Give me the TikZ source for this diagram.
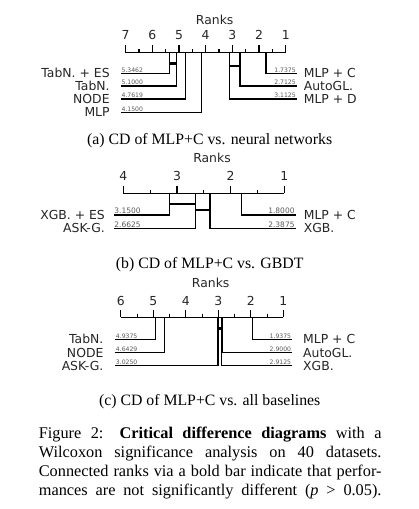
\documentclass[tikz,border=0pt]{standalone}
\usepackage{fontspec}
\setmainfont{Liberation Serif}
\newfontfamily\cdsans{DejaVu Sans}
\usetikzlibrary{positioning}

\tikzset{
  lbl/.style={font=\cdsans\fontsize{12.4}{14}\selectfont, text=black!85},
  val/.style={font=\cdsans\fontsize{6.1}{7}\selectfont, text=black!65, inner sep=0.4pt},
  valb/.style={val, font=\cdsans\fontsize{7.5}{8}\selectfont},
  sub/.style={font=\fontsize{15.8}{19}\selectfont},
  cdbar/.style={line width=2.8pt},
}

\begin{document}
\begin{tikzpicture}[line cap=butt,line join=miter,x=1pt,y=-1pt,line width=1.1pt]
\useasboundingbox (0,0) rectangle (419,509);
\draw (214.7,20) node[lbl] (ranksa) {Ranks};
\draw (125.7,52.7)-- (285.7,52.7);
\foreach \r in {1,...,7} {
  \draw ({285.7-26.67*(\r-1)},45)-- ({285.7-26.67*(\r-1)},52.7);
  \draw ({285.7-26.67*(\r-1)},35.3) node[lbl] (tka\r) {\r};
}
\foreach \r in {1.5,2.5,...,6.5}
  \draw ({285.7-26.67*(\r-1)},49)-- ({285.7-26.67*(\r-1)},52.7);
\draw (169.8,52.7)-- (169.8,73.3)-- (120.7,73.3);
\draw (176.4,52.7)-- (176.4,86)-- (120.7,86);
\draw (185.4,52.7)-- (185.4,99)-- (120.7,99);
\draw (201.7,52.7)-- (201.7,112.3)-- (120.7,112.3);
\draw (266,52.7)-- (266,73.3)-- (296.7,73.3);
\draw (240,52.7)-- (240,86)-- (296.7,86);
\draw (229.4,52.7)-- (229.4,99)-- (296.7,99);
\draw [cdbar] (169.8,63.3)-- (176.4,63.3);
\draw [cdbar] (229.4,66)-- (240,66);
\draw (120.7,73.3) node[val,anchor=south west] (va1) {5.3462};
\draw (120.7,86) node[val,anchor=south west] (va2) {5.1000};
\draw (120.7,99) node[val,anchor=south west] (va3) {4.7619};
\draw (120.7,112.3) node[val,anchor=south west] (va4) {4.1500};
\draw (296.7,73.3) node[val,anchor=south east] (va5) {1.7375};
\draw (296.7,86) node[val,anchor=south east] (va6) {2.7125};
\draw (296.7,99) node[val,anchor=south east] (va7) {3.1125};
\draw (113.5,77.7) node[lbl,anchor=base east] (tabnesa) {TabN. + ES};
\draw (113.5,90.4) node[lbl,anchor=base east] (tabna) {TabN.};
\draw (113.5,103.4) node[lbl,anchor=base east] (nodea) {NODE};
\draw (113.5,116.7) node[lbl,anchor=base east] (mlpa) {MLP};
\draw (300,77.7) node[lbl,anchor=base west] (mlpca) {MLP + C};
\draw (300,90.4) node[lbl,anchor=base west] (autogla) {AutoGL.};
\draw (300,103.4) node[lbl,anchor=base west] (mlpda) {MLP + D};
\draw (209.7,140.7) node[sub] (capa) {(a) CD of MLP+C vs. neural networks};
\draw (212,158.3) node[lbl] (ranksb) {Ranks};
\draw (123.3,193.3)-- (284.3,193.3);
\foreach \r in {1,...,4} {
  \draw ({284.3-53.67*(\r-1)},186.2)-- ({284.3-53.67*(\r-1)},193.3);
  \draw ({284.3-53.67*(\r-1)},176.3) node[lbl] (tkb\r) {\r};
}
\foreach \r in {1.5,2.5,3.5}
  \draw ({284.3-53.67*(\r-1)},189.8)-- ({284.3-53.67*(\r-1)},193.3);
\draw (169.3,193.3)-- (169.3,215)-- (113.5,215);
\draw (195.4,193.3)-- (195.4,228.3)-- (113.5,228.3);
\draw (241.8,193.3)-- (241.8,215)-- (295.5,215);
\draw (210,193.3)-- (210,228.3)-- (295.5,228.3);
\draw [cdbar] (169.3,204)-- (195.4,204);
\draw [cdbar] (195.4,210)-- (210,210);
\draw (113.5,215) node[valb,anchor=south west] (vb1) {3.1500};
\draw (113.5,228.3) node[valb,anchor=south west] (vb2) {2.6625};
\draw (295.5,215) node[valb,anchor=south east] (vb3) {1.8000};
\draw (295.5,228.3) node[valb,anchor=south east] (vb4) {2.3875};
\draw (108.7,219.4) node[lbl,anchor=base east] (xgbesb) {XGB. + ES};
\draw (108.7,232.7) node[lbl,anchor=base east] (askgb) {ASK-G.};
\draw (300,219.4) node[lbl,anchor=base west] (mlpcb) {MLP + C};
\draw (300,232.7) node[lbl,anchor=base west] (xgbb) {XGB.};
\draw (209.7,265) node[sub] (capb) {(b) CD of MLP+C vs. GBDT};
\draw (210.7,283.3) node[lbl] (ranksc) {Ranks};
\draw (120.7,317.3)-- (283.3,317.3);
\foreach \r in {1,...,6} {
  \draw ({283.3-32.5*(\r-1)},310)-- ({283.3-32.5*(\r-1)},317.3);
  \draw ({283.3-32.5*(\r-1)},300.7) node[lbl] (tkc\r) {\r};
}
\foreach \r in {1.5,2.5,...,5.5}
  \draw ({283.3-32.5*(\r-1)},313.7)-- ({283.3-32.5*(\r-1)},317.3);
\draw (155.3,317.3)-- (155.3,339.3)-- (115,339.3);
\draw (164.9,317.3)-- (164.9,352.7)-- (115,352.7);
\draw (218,317.3)-- (218,365.7)-- (115,365.7);
\draw (252.8,317.3)-- (252.8,339.3)-- (292,339.3);
\draw (222,317.3)-- (222,352.7)-- (292,352.7);
\draw (221.2,317.3)-- (221.2,365.7)-- (292,365.7);
\draw [cdbar] (218,328.3)-- (222,328.3);
\draw (115,339.3) node[val,anchor=south west] (vc1) {4.9375};
\draw (115,352.7) node[val,anchor=south west] (vc2) {4.6429};
\draw (115,365.7) node[val,anchor=south west] (vc3) {3.0250};
\draw (292,339.3) node[val,anchor=south east] (vc4) {1.9375};
\draw (292,352.7) node[val,anchor=south east] (vc5) {2.9000};
\draw (292,365.7) node[val,anchor=south east] (vc6) {2.9125};
\draw (107.3,343.7) node[lbl,anchor=base east] (tabnc) {TabN.};
\draw (107.3,357.1) node[lbl,anchor=base east] (nodec) {NODE};
\draw (107.3,370.1) node[lbl,anchor=base east] (askgc) {ASK-G.};
\draw (299.3,343.7) node[lbl,anchor=base west] (mlpcc) {MLP + C};
\draw (299.3,357.1) node[lbl,anchor=base west] (autoglc) {AutoGL.};
\draw (299.3,370.1) node[lbl,anchor=base west] (xgbc) {XGB.};
\draw (209.7,401.7) node[sub] (capc) {(c) CD of MLP+C vs. all baselines};
\node[sub,font=\fontsize{16.3}{19}\selectfont,text width=342.7pt,align=justify,anchor=north west,inner sep=0pt] (figcap) at (38.3,426.2)
  {Figure 2: \textbf{Critical difference diagrams} with a\linebreak
   Wilcoxon significance analysis on 40 datasets.\linebreak
   Connected ranks via a bold bar indicate that perfor-\linebreak
   mances are not significantly different (\textit{p} > 0.05).\parfillskip=0pt\par};
\end{tikzpicture}
\end{document}
